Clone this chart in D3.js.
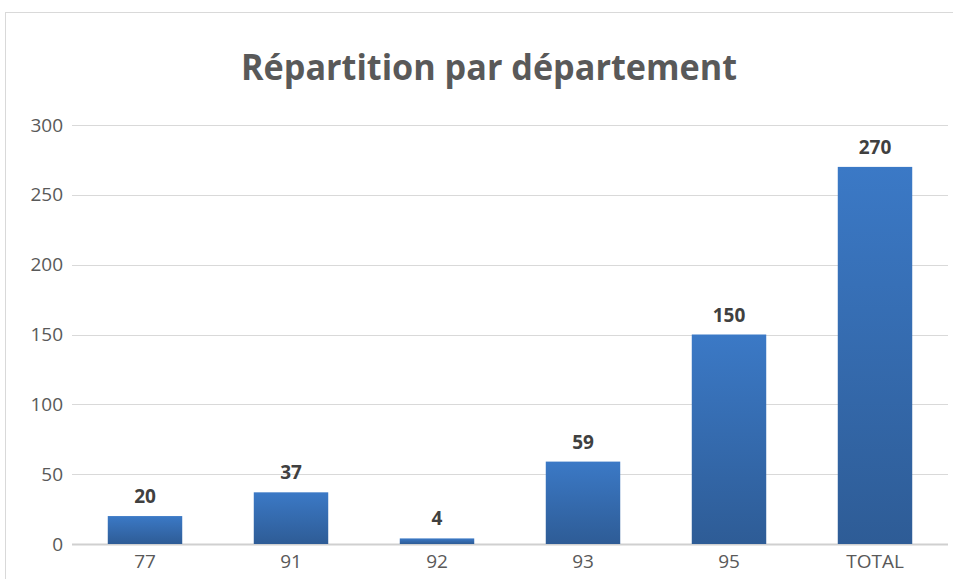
<!DOCTYPE html>
<html>
<head>
<meta charset="utf-8">
<script src="https://cdn.jsdelivr.net/npm/d3@7"></script>
<style>
  body { margin: 0; background: #fff; }
  svg { display: block; }
</style>
</head>
<body>
<div id="chart"></div>
<script>
// data
const categories = ["77", "91", "92", "93", "95", "TOTAL"];
const values = [20, 37, 4, 59, 150, 270];
const yTicks = [0, 50, 100, 150, 200, 250, 300];
const title = "Répartition par département";

const W = 953, H = 579;
const margin = {top: 125, right: 5, bottom: 35, left: 72};
const font = "'Open Sans', 'Liberation Sans', sans-serif";

const svg = d3.select("#chart")
  .append("svg")
  .attr("width", W)
  .attr("height", H);

// chart frame
svg.append("rect")
  .attr("x", 5.5).attr("y", 12.5)
  .attr("width", W + 10).attr("height", H + 10)
  .attr("fill", "#fff")
  .attr("stroke", "#d9d9d9");

const defs = svg.append("defs");
const grad = defs.append("linearGradient")
  .attr("id", "barGrad")
  .attr("x1", 0).attr("y1", 0).attr("x2", 0).attr("y2", 1);
grad.append("stop").attr("offset", "0%").attr("stop-color", "#3b79c6");
grad.append("stop").attr("offset", "100%").attr("stop-color", "#2e5c96");

const x = d3.scaleBand()
  .domain(categories)
  .range([margin.left, W - margin.right])
  .paddingInner(0.49)
  .paddingOuter(0.245);

const y = d3.scaleLinear()
  .domain([0, 300])
  .range([H - margin.bottom, margin.top]);

// gridlines
svg.append("g")
  .selectAll("line")
  .data(yTicks)
  .join("line")
  .attr("x1", margin.left)
  .attr("x2", W - margin.right)
  .attr("y1", d => Math.round(y(d)) + 0.5)
  .attr("y2", d => Math.round(y(d)) + 0.5)
  .attr("stroke", d => d === 0 ? "#d0d0d0" : "#d9d9d9")
  .attr("stroke-width", d => d === 0 ? 2 : 1);

// y labels
const yAxis = svg.append("g")
  .attr("transform", `translate(${margin.left - 9},0)`)
  .call(d3.axisLeft(y).tickValues(yTicks).tickSize(0).tickPadding(0));
yAxis.select(".domain").remove();
yAxis.selectAll("text")
  .attr("fill", "#595959")
  .style("font-family", font)
  .style("font-size", "19px");

// x labels
const xAxis = svg.append("g")
  .attr("transform", `translate(0,${H - margin.bottom})`)
  .call(d3.axisBottom(x).tickSize(0).tickPadding(11));
xAxis.select(".domain").remove();
xAxis.selectAll("text")
  .attr("fill", "#595959")
  .style("font-family", font)
  .style("font-size", "19px");

// bars
svg.append("g")
  .selectAll("rect")
  .data(values)
  .join("rect")
  .attr("x", (d, i) => x(categories[i]))
  .attr("width", x.bandwidth())
  .attr("y", d => y(d))
  .attr("height", d => y(0) - y(d))
  .attr("fill", "url(#barGrad)");

// value labels
svg.append("g")
  .selectAll("text")
  .data(values)
  .join("text")
  .attr("x", (d, i) => x(categories[i]) + x.bandwidth() / 2)
  .attr("y", d => y(d) - 13)
  .attr("text-anchor", "middle")
  .attr("fill", "#404040")
  .style("font-family", font)
  .style("font-size", "19px")
  .style("font-weight", "bold")
  .text(d => d);

// title
svg.append("text")
  .attr("x", 489)
  .attr("y", 80)
  .attr("text-anchor", "middle")
  .attr("fill", "#595959")
  .style("font-family", font)
  .style("font-size", "36px")
  .style("font-weight", "bold")
  .attr("textLength", 496)
  .attr("lengthAdjust", "spacingAndGlyphs")
  .text(title);
</script>
</body>
</html>
